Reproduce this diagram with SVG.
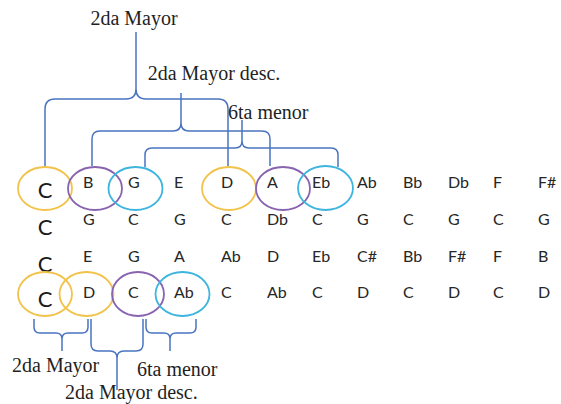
<svg xmlns="http://www.w3.org/2000/svg" width="561" height="404" viewBox="0 0 561 404">
  <style>
    .note { font-family: Lato, "Liberation Sans", sans-serif; font-size: 16px; fill: #262626; }
    .root { font-family: Lato, "Liberation Sans", sans-serif; font-size: 22px; fill: #1a1a1a; text-anchor: middle; }
    .label { font-family: "Liberation Serif", serif; font-size: 20px; fill: #1f1f1f; }
    .ring { fill: none; stroke-width: 1.8; }
    .y { stroke: #F2C34A; }
    .p { stroke: #8763B0; }
    .c { stroke: #3DB5DE; }
    .brace { fill: none; stroke: #4A74C0; stroke-width: 1.5; stroke-linejoin: round; }
  </style>
  <rect width="561" height="404" fill="#ffffff"/>

  <!-- root column -->
  <g id="roots">
    <text class="root" x="45" y="198">C</text>
    <text class="root" x="45" y="235">C</text>
    <text class="root" x="45" y="272">C</text>
    <text class="root" x="45" y="307">C</text>
  </g>

  <!-- note grid -->
  <g id="row1" class="note">
    <text x="83" y="188">B</text><text x="128" y="188">G</text><text x="174" y="188">E</text>
    <text x="221" y="188">D</text><text x="267" y="188">A</text><text x="312" y="188">Eb</text>
    <text x="357" y="188">Ab</text><text x="403" y="188">Bb</text><text x="448" y="188">Db</text>
    <text x="493" y="188">F</text><text x="538" y="188">F#</text>
  </g>
  <g id="row2" class="note">
    <text x="83" y="225">G</text><text x="128" y="225">C</text><text x="174" y="225">G</text>
    <text x="221" y="225">C</text><text x="267" y="225">Db</text><text x="312" y="225">C</text>
    <text x="357" y="225">G</text><text x="403" y="225">C</text><text x="448" y="225">G</text>
    <text x="493" y="225">C</text><text x="538" y="225">G</text>
  </g>
  <g id="row3" class="note">
    <text x="83" y="262">E</text><text x="128" y="262">G</text><text x="174" y="262">A</text>
    <text x="221" y="262">Ab</text><text x="267" y="262">D</text><text x="312" y="262">Eb</text>
    <text x="357" y="262">C#</text><text x="403" y="262">Bb</text><text x="448" y="262">F#</text>
    <text x="493" y="262">F</text><text x="538" y="262">B</text>
  </g>
  <g id="row4" class="note">
    <text x="83" y="298">D</text><text x="128" y="298">C</text><text x="174" y="298">Ab</text>
    <text x="221" y="298">C</text><text x="267" y="298">Ab</text><text x="312" y="298">C</text>
    <text x="357" y="298">D</text><text x="403" y="298">C</text><text x="448" y="298">D</text>
    <text x="493" y="298">C</text><text x="538" y="298">D</text>
  </g>

  <!-- highlighted notes, top row -->
  <g id="r1-C"><ellipse class="ring y" cx="45" cy="188.5" rx="27" ry="21.5"/></g>
  <g id="r1-B"><ellipse class="ring p" cx="95" cy="188.5" rx="27" ry="21.5"/></g>
  <g id="r1-G"><ellipse class="ring c" cx="135.5" cy="188.5" rx="27" ry="21.5"/></g>
  <g id="r1-D"><ellipse class="ring y" cx="229" cy="188.5" rx="27" ry="21.5"/></g>
  <g id="r1-A"><ellipse class="ring p" cx="283" cy="188.5" rx="27" ry="21.5"/></g>
  <g id="r1-Eb"><ellipse class="ring c" cx="325.5" cy="188" rx="27.5" ry="22"/></g>

  <!-- highlighted notes, bottom row -->
  <g id="r4-C"><ellipse class="ring y" cx="45" cy="294" rx="27" ry="22"/></g>
  <g id="r4-D"><ellipse class="ring y" cx="86.5" cy="294" rx="27" ry="22"/></g>
  <g id="r4-C2"><ellipse class="ring p" cx="138" cy="294" rx="26" ry="22"/></g>
  <g id="r4-Ab"><ellipse class="ring c" cx="182.5" cy="294" rx="27" ry="22"/></g>

  <!-- interval braces -->
  <g id="connectors" class="brace">
    <path d="M45,166 V109 Q45,99 55,99 H126 Q136,99 136,89 V32 M136,89 Q136,99 146,99 H218 Q228,99 228,109 V166"/>
    <path d="M92,166 V139 Q92,131 100,131 H173 Q181,131 181,123 V93 M181,123 Q181,131 189,131 H262 Q270,131 270,139 V166"/>
    <path d="M145,167 V155 Q145,148 152,148 H235 Q242,148 242,141 V120 M242,141 Q242,148 249,148 H331 Q338,148 338,155 V167"/>
    <path d="M34,319 V327 Q34,333 40,333 H56 Q62,333 62,339 V351 M62,339 Q62,333 68,333 H82 Q88,333 88,327 V319"/>
    <path d="M91,319 V344 Q91,351 98,351 H110 Q117,351 117,358 V390 M117,358 Q117,351 124,351 H136 Q143,351 143,344 V319"/>
    <path d="M146,319 V327 Q146,333 152,333 H164 Q170,333 170,339 V351 M170,339 Q170,333 176,333 H190 Q196,333 196,327 V319"/>
  </g>

  <!-- interval labels -->
  <g id="labels" class="label">
    <text x="134" y="25" text-anchor="middle">2da Mayor</text>
    <text x="214" y="80" text-anchor="middle">2da Mayor desc.</text>
    <text x="228" y="119">6ta menor</text>
    <text x="12" y="372">2da Mayor</text>
    <text x="137" y="376">6ta menor</text>
    <text x="65" y="399">2da Mayor desc.</text>
  </g>
</svg>
